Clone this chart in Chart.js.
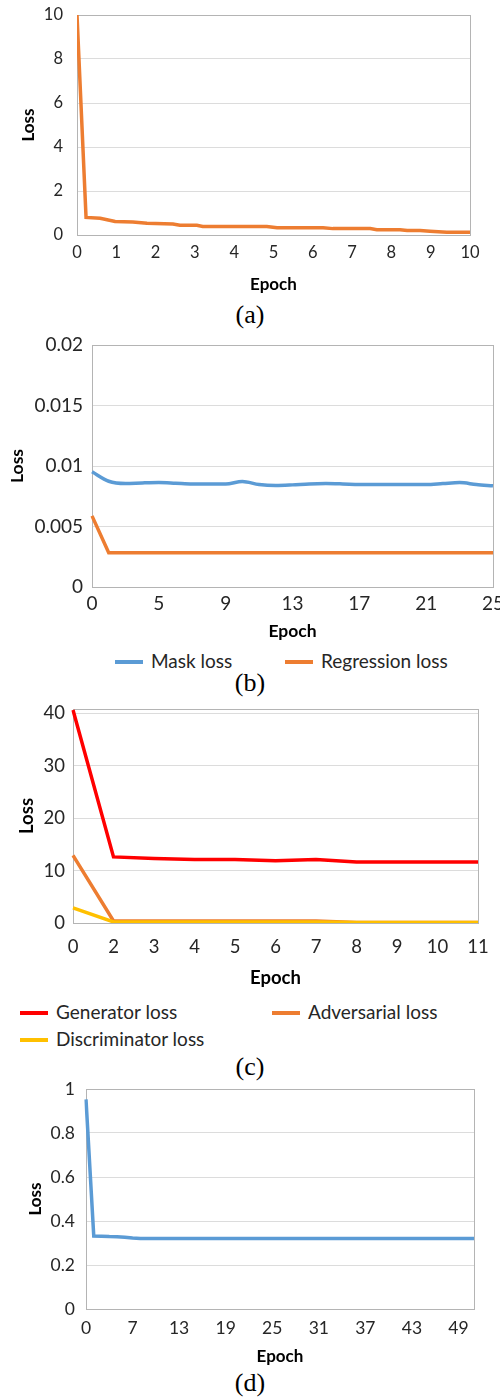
<!DOCTYPE html>
<html lang="en">
<head>
  <meta charset="UTF-8" />
  <title>Loss curves</title>
  <script src="https://cdn.jsdelivr.net/npm/chart.js"></script>
  <style>
    body { margin:0; background:#fff; width:500px; height:1398px; position:relative; overflow:hidden; font-family: Lato, sans-serif; }
    canvas { position:absolute; left:0; }
    .cap { position:absolute; left:0; width:500px; text-align:center; font-family:"Liberation Serif", serif; font-size:26px; line-height:26px; color:#000; }
    .item { position:absolute; white-space:nowrap; font-size:19px; line-height:20px; color:#262626; }
    .item i { display:inline-block; width:28px; height:4px; vertical-align:middle; margin-right:8px; position:relative; top:-1px; }
  </style>
</head>
<body>

  <canvas id="chartA" width="500" height="295" style="top:0px"></canvas>
  <div class="cap" style="top:302px">(a)</div>

  <canvas id="chartB" width="500" height="312" style="top:330px"></canvas>
  <div id="legendB"></div>
  <div class="cap" style="top:670px">(b)</div>

  <canvas id="chartC" width="500" height="294" style="top:695px"></canvas>
  <div id="legendC"></div>
  <div class="cap" style="top:1054px">(c)</div>

  <canvas id="chartD" width="500" height="292" style="top:1075px"></canvas>
  <div class="cap" style="top:1370px">(d)</div>

<script>
  // (a) single loss curve, x = epoch (fractional)
  const epochA = [0, 0.23, 0.59, 0.97, 1.42, 1.78, 2.44, 2.62, 3.05, 3.2, 4.83, 5.09, 6.26, 6.51, 7.46, 7.63, 8.22, 8.4, 8.73, 8.98, 9.41, 10];
  const lossA  = [10, 0.80, 0.76, 0.61, 0.59, 0.53, 0.50, 0.44, 0.44, 0.39, 0.39, 0.33, 0.33, 0.29, 0.29, 0.24, 0.24, 0.20, 0.20, 0.17, 0.13, 0.13];

  // (b) mask / regression loss
  const epochsB = ['0','2','3','4','5','6','7','8','9','10','11','12','13','14','15','16','17','18','19','20','21','22','23','24','25'];
  const xTicksB = ['0','5','9','13','17','21','25'];
  const maskLoss = [0.00952, 0.00874, 0.00855, 0.0086, 0.00863, 0.00858, 0.00852, 0.00852, 0.00852, 0.00872, 0.00847, 0.00839, 0.00844, 0.00852, 0.00855, 0.00852, 0.00847, 0.00847, 0.00847, 0.00847, 0.00847, 0.00855, 0.00863, 0.00847, 0.00836];
  const regressionLoss = [0.00588, 0.00284, 0.00284, 0.00284, 0.00284, 0.00284, 0.00284, 0.00284, 0.00284, 0.00284, 0.00284, 0.00284, 0.00284, 0.00284, 0.00284, 0.00284, 0.00284, 0.00284, 0.00284, 0.00284, 0.00284, 0.00284, 0.00284, 0.00284, 0.00284];

  // (c) GAN losses
  const epochsC = ['0','2','3','4','5','6','7','8','9','10','11'];
  const yTicksC = [0, 10, 20, 30, 40];
  const generatorLoss     = [40.6, 12.6, 12.3, 12.1, 12.1, 11.85, 12.1, 11.65, 11.65, 11.65, 11.65];
  const adversarialLoss   = [12.9, 0.4, 0.4, 0.4, 0.4, 0.4, 0.4, 0.1, 0.1, 0.1, 0.1];
  const discriminatorLoss = [2.9, 0.2, 0.2, 0.2, 0.2, 0.2, 0.2, 0.08, 0.08, 0.08, 0.08];

  // (d) single loss curve
  const epochsD = ['0','2','3','4','5','6','7','8','9','10','11','12','13','14','15','16','17','18','19','20','21','22','23','24','25','26','27','28','29','30','31','32','33','34','35','36','37','38','39','40','41','42','43','44','45','46','47','48','49','50','51'];
  const xTicksD = ['0','7','13','19','25','31','37','43','49'];
  const lossD = [0.953, 0.332, 0.331, 0.329, 0.328, 0.326, 0.323, 0.321, 0.321, 0.321, 0.321, 0.321, 0.321, 0.321, 0.321, 0.321, 0.321, 0.321, 0.321, 0.321, 0.321, 0.321, 0.321, 0.321, 0.321, 0.321, 0.321, 0.321, 0.321, 0.321, 0.321, 0.321, 0.321, 0.321, 0.321, 0.321, 0.321, 0.321, 0.321, 0.321, 0.321, 0.321, 0.321, 0.321, 0.321, 0.321, 0.321, 0.321, 0.321, 0.321, 0.321];

  const BLUE = '#5B9BD5', ORANGE = '#ED7D31', RED = '#FF0000', YELLOW = '#FFC000';
  const AXIS = '#b4b4b4', GRID = '#dcdcdc', TEXT = '#262626';

  // box around the plot area, like the Excel charts
  const frame = {
    id: 'frame',
    beforeDatasetsDraw(chart) {
      const a = chart.chartArea, ctx = chart.ctx;
      ctx.save();
      ctx.strokeStyle = AXIS;
      ctx.lineWidth = 1;
      ctx.strokeRect(Math.round(a.left) + 0.5, Math.round(a.top) + 0.5, Math.round(a.right - a.left), Math.round(a.bottom - a.top));
      ctx.restore();
    }
  };

  // plain number, no trailing zeros (0.02, 0.01, 1)
  const plain = v => String(+Number(v).toFixed(4));

  // c = layout numbers for one panel
  function lossChart(id, data, xScale, yScale, c) {
    return new Chart(document.getElementById(id), {
      type: 'line',
      data: data,
      options: {
        responsive: false,
        animation: false,
        layout: { padding: { top: c.padTop, right: c.padRight, left: 0, bottom: 0 } },
        plugins: { legend: { display: false }, tooltip: { enabled: false } },
        elements: { point: { radius: 0 }, line: { borderWidth: 3.5 } },
        scales: {
          x: Object.assign({
            grid: { display: false, drawTicks: false },
            border: { color: AXIS },
            ticks: Object.assign({ color: TEXT, font: { family: 'Lato', size: c.tick }, padding: c.xPad, maxRotation: 0, autoSkip: false }, xScale.ticks || {}),
            title: { display: true, text: 'Epoch', color: '#000', font: { family: 'Lato', size: c.title, weight: 'bold' }, padding: { top: 0, bottom: 0 } },
            afterFit(s) { s.height = c.xHeight; s.paddingLeft = 0; s.paddingRight = 0; }
          }, xScale.base),
          y: Object.assign({
            grid: { color: GRID, drawTicks: false },
            border: { color: AXIS },
            ticks: Object.assign({ color: TEXT, font: { family: 'Lato', size: c.tick }, padding: c.yPad, callback: plain }, yScale.ticks || {}),
            title: { display: true, text: 'Loss', color: '#000', font: { family: 'Lato', size: c.title, weight: 'bold' }, padding: { top: c.yTitle, bottom: 0 } },
            afterFit(s) { s.width = c.yWidth; s.paddingTop = 0; s.paddingBottom = 0; }
          }, yScale.base)
        }
      },
      plugins: [frame]
    });
  }

  function showEvery(list) {
    return function (val) {
      const lab = this.getLabelForValue(val);
      return list.includes(lab) ? lab : '';
    };
  }

  function htmlLegend(holderId, chart, spots) {
    const holder = document.getElementById(holderId);
    chart.data.datasets.forEach((ds, i) => {
      const el = document.createElement('span');
      el.className = 'item';
      el.style.left = spots[i][0] + 'px';
      el.style.top = (spots[i][1] - 10) + 'px';
      el.innerHTML = '<i style="background:' + ds.borderColor + '"></i>' + ds.label;
      holder.appendChild(el);
    });
  }

  // (a)
  lossChart('chartA', {
    datasets: [{ label: 'Loss', data: epochA.map((e, i) => ({ x: e, y: lossA[i] })), borderColor: ORANGE }]
  }, {
    base: { type: 'linear', min: 0, max: 10 },
    ticks: { stepSize: 1 }
  }, {
    base: { min: 0, max: 10 },
    ticks: { stepSize: 2 }
  }, { padTop: 15, padRight: 30, yWidth: 77, xHeight: 60, tick: 16.5, title: 17, xPad: 8, yPad: 14, yTitle: 18 });

  // (b)
  const chartB = lossChart('chartB', {
    labels: epochsB,
    datasets: [
      { label: 'Mask loss', data: maskLoss, borderColor: BLUE, cubicInterpolationMode: 'monotone' },
      { label: 'Regression loss', data: regressionLoss, borderColor: ORANGE }
    ]
  }, {
    ticks: { callback: showEvery(xTicksB) }
  }, {
    base: { min: 0, max: 0.02 },
    ticks: { stepSize: 0.005 }
  }, { padTop: 15, padRight: 7, yWidth: 92, xHeight: 55, tick: 19, title: 17.5, xPad: 5, yPad: 9, yTitle: 7 });
  htmlLegend('legendB', chartB, [[115, 661], [285, 661]]);

  // (c) yellow drawn last, as in the original
  const chartC = lossChart('chartC', {
    labels: epochsC,
    datasets: [
      { label: 'Generator loss', data: generatorLoss, borderColor: RED, order: 1 },
      { label: 'Adversarial loss', data: adversarialLoss, borderColor: ORANGE, order: 2 },
      { label: 'Discriminator loss', data: discriminatorLoss, borderColor: YELLOW, order: 0 }
    ]
  }, {}, {
    base: { min: 0, max: 40.8, afterBuildTicks(s) { s.ticks = yTicksC.map(v => ({ value: v })); } }
  }, { padTop: 14, padRight: 22, yWidth: 73, xHeight: 66, tick: 18.5, title: 18.5, xPad: 13, yPad: 8, yTitle: 16 });
  htmlLegend('legendC', chartC, [[20, 1012], [272, 1012], [20, 1039]]);

  // (d)
  lossChart('chartD', {
    labels: epochsD,
    datasets: [{ label: 'Loss', data: lossD, borderColor: BLUE }]
  }, {
    ticks: { callback: showEvery(xTicksD) }
  }, {
    base: { min: 0, max: 1 },
    ticks: { stepSize: 0.2 }
  }, { padTop: 14, padRight: 26, yWidth: 86, xHeight: 58, tick: 17.5, title: 17, xPad: 8.5, yPad: 11, yTitle: 25 });
</script>
</body>
</html>
